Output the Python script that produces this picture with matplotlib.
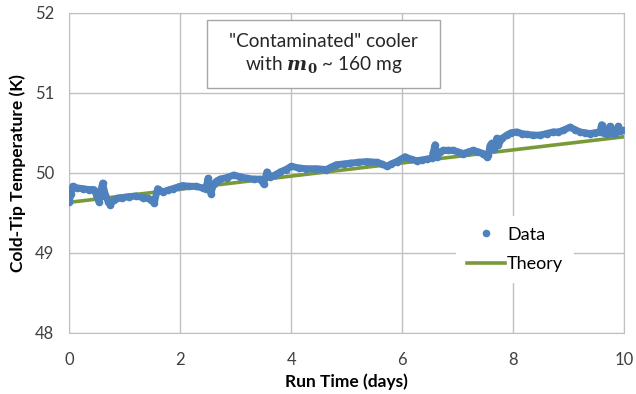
import matplotlib
matplotlib.use('Agg')
from matplotlib import pyplot as plt
from matplotlib.patches import Rectangle

# values
run_days = [0.00, 0.03, 0.06, 0.14, 0.25, 0.35, 0.44, 0.48, 0.50, 0.53, 0.56, 0.60, 0.65, 0.70,
            0.74, 0.80, 0.86, 0.95, 1.07, 1.20, 1.32, 1.42, 1.47, 1.53, 1.59, 1.68, 1.77, 1.86,
            1.95, 2.04, 2.16, 2.28, 2.40, 2.46, 2.50, 2.53, 2.55, 2.60, 2.66, 2.72, 2.84, 2.96,
            3.08, 3.20, 3.32, 3.44, 3.50, 3.56, 3.62, 3.70, 3.80, 3.90, 4.00, 4.13, 4.27, 4.45,
            4.63, 4.72, 4.81, 4.95, 5.06, 5.20, 5.36, 5.54, 5.63, 5.72, 5.80, 5.90, 6.05, 6.15,
            6.26, 6.36, 6.44, 6.53, 6.56, 6.59, 6.62, 6.68, 6.74, 6.83, 6.92, 7.01, 7.10, 7.19,
            7.28, 7.37, 7.46, 7.52, 7.55, 7.58, 7.61, 7.66, 7.70, 7.73, 7.80, 7.88, 7.96, 8.06,
            8.15, 8.24, 8.36, 8.48, 8.60, 8.72, 8.81, 8.90, 9.02, 9.11, 9.20, 9.29, 9.38, 9.47,
            9.56, 9.59, 9.63, 9.68, 9.74, 9.78, 9.83, 9.89, 9.93, 9.98]
temps_k = [49.64, 49.74, 49.83, 49.81, 49.80, 49.79, 49.79, 49.74, 49.70, 49.64, 49.75, 49.87, 49.72, 49.64,
           49.60, 49.66, 49.68, 49.69, 49.70, 49.71, 49.69, 49.68, 49.66, 49.62, 49.80, 49.76, 49.78, 49.80,
           49.82, 49.84, 49.83, 49.83, 49.81, 49.80, 49.93, 49.82, 49.74, 49.86, 49.90, 49.92, 49.94, 49.97,
           49.95, 49.93, 49.92, 49.92, 49.86, 50.01, 49.95, 49.97, 50.01, 50.04, 50.08, 50.06, 50.05, 50.05,
           50.04, 50.07, 50.10, 50.11, 50.12, 50.13, 50.14, 50.13, 50.11, 50.08, 50.11, 50.14, 50.20, 50.17,
           50.15, 50.16, 50.17, 50.18, 50.26, 50.35, 50.20, 50.26, 50.28, 50.28, 50.28, 50.26, 50.24, 50.26,
           50.28, 50.26, 50.24, 50.20, 50.22, 50.34, 50.37, 50.30, 50.43, 50.35, 50.43, 50.47, 50.50, 50.51,
           50.49, 50.48, 50.47, 50.47, 50.49, 50.51, 50.51, 50.53, 50.57, 50.54, 50.51, 50.50, 50.49, 50.50,
           50.51, 50.60, 50.50, 50.49, 50.58, 50.50, 50.49, 50.58, 50.52, 50.53]
theory_days = [0, 10]
theory_temps = [49.63, 50.45]

x_ticks = [0, 2, 4, 6, 8, 10]
y_ticks = [48, 49, 50, 51, 52]

blue = '#4F81BD'
green = '#7A9A3A'
grid_c = '#C0C0C0'

plt.rcParams['font.family'] = ['Lato', 'DejaVu Sans']
plt.rcParams['mathtext.fontset'] = 'dejavuserif'

fig = plt.figure(figsize=(6.36, 3.94), dpi=100)
ax = fig.add_axes([0.109, 0.1556, 0.8726, 0.812])

ax.plot(theory_days, theory_temps, color=green, lw=2.6, label='Theory', zorder=3)
ax.plot(run_days, temps_k, color=blue, lw=5, solid_joinstyle='round',
        solid_capstyle='round', zorder=4)
ax.plot(run_days, temps_k, 'o', color=blue, ms=4.5, label='Data', zorder=4)

ax.set_xlim(0, 10)
ax.set_ylim(48, 52)
ax.set_xticks(x_ticks)
ax.set_yticks(y_ticks)
ax.grid(True, color=grid_c, lw=1)
ax.set_axisbelow(True)
for s in ax.spines.values():
    s.set_color(grid_c)
ax.tick_params(length=0, labelsize=12, colors='#404040')
ax.tick_params(axis='x', pad=14)
ax.tick_params(axis='y', pad=11)
ax.set_xlabel('Run Time (days)', fontsize=12.5, fontweight='bold', labelpad=4)
ax.set_ylabel('Cold-Tip Temperature (K)', fontsize=12.5, fontweight='bold', labelpad=6)

# annotation box
ax.add_patch(Rectangle((0.248, 0.765), 0.42, 0.212, transform=ax.transAxes,
                       facecolor='white', edgecolor='#A6A6A6', lw=1, zorder=5))
ax.text(0.458, 0.871, '"Contaminated" cooler\nwith $\\boldsymbol{m}_{\\mathbf{0}}$ ~ 160 mg',
        transform=ax.transAxes, ha='center', va='center', fontsize=13.7,
        color='#262626', linespacing=1.25, zorder=6)

h, l = ax.get_legend_handles_labels()
leg = ax.legend(h[::-1], l[::-1], loc='center', bbox_to_anchor=(0.803, 0.26),
                fontsize=13, frameon=True, handlelength=2.1, labelspacing=0.75,
                borderpad=0.6, handletextpad=0.15)
leg.get_frame().set_facecolor('white')
leg.get_frame().set_edgecolor('none')
leg.get_frame().set_alpha(1)

fig.savefig('out.png', dpi=100)
